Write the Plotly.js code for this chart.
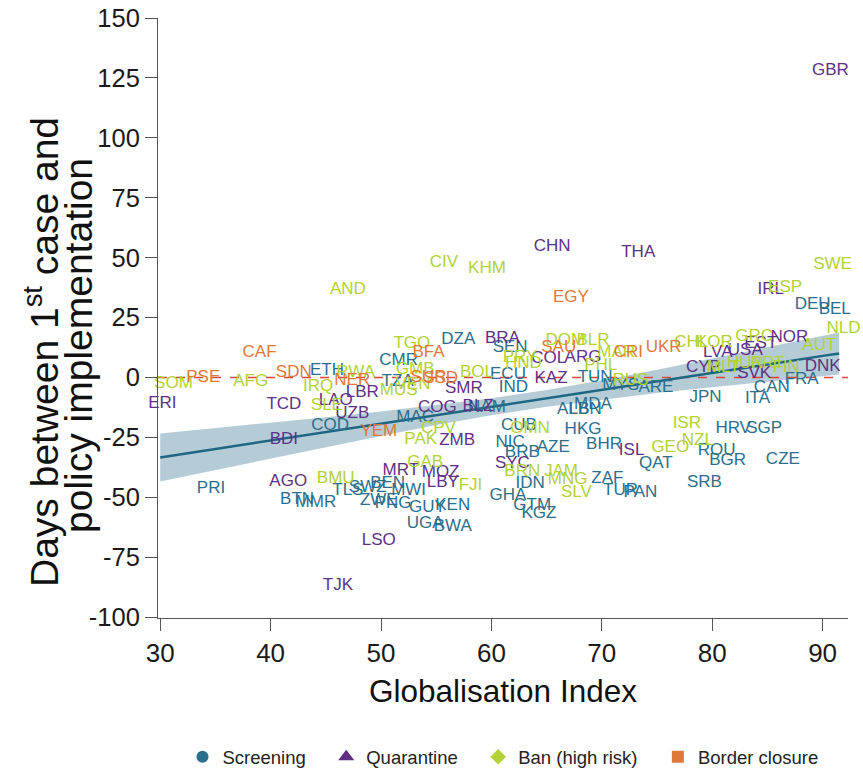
<!DOCTYPE html>
<html>
<head>
<meta charset="utf-8">
<script src="https://cdn.plot.ly/plotly-3.0.1.min.js"></script>
<style>html,body{margin:0;padding:0;background:#fff;}#chart{width:863px;height:772px;}</style>
</head>
<body>
<div id="chart"></div>
<script>
// ---- Data ----
var screenCodes = ["DEU","BEL","FRA","CAN","ITA","JPN","SGP","HRV","ROU","BGR","CZE","QAT","SRB","PAN","TUR","BHR","HKG","ZAF","IDN","AZE","BRB","NIC","CUB","GHA","GTM","KGZ","MDA","ALB","LBN","ARE","NAM","DZA","SEN","CMR","ETH","TZA","IND","ECU","TUN","MAC","COD","PRI","BTN","MMR","TLS","SWZ","BEN","MWI","ZWE","PNG","GUY","KEN","UGA","BWA","MYS"];
var screenX = [89.1,91.1,88.1,85.4,84.1,79.4,84.7,81.9,80.4,81.4,86.4,74.9,79.3,73.5,71.7,70.2,68.3,70.5,63.5,65.6,62.8,61.7,62.5,61.5,63.7,64.3,69.2,67.4,68.5,74.9,59.6,57.0,61.7,51.6,45.1,51.5,62.0,61.5,69.4,53.1,45.4,34.6,42.4,44.1,47.0,48.8,50.6,52.5,49.8,51.1,54.2,56.5,54.0,56.5,71.7];
var screenY = [30.5,28.4,-0.8,-4.2,-8.8,-8.3,-21.3,-21.3,-30.5,-34.6,-34.2,-35.9,-43.8,-48.0,-47.2,-28.0,-21.7,-42.2,-44.2,-29.2,-31.3,-27.1,-20.0,-49.3,-53.4,-56.8,-11.3,-13.4,-13.4,-4.2,-12.5,15.9,12.5,7.1,2.9,-1.7,-4.2,1.3,0.0,-16.7,-20.0,-46.3,-50.9,-52.2,-47.2,-45.9,-44.2,-47.2,-51.3,-52.6,-54.3,-53.4,-60.9,-62.2,-3.3];

var quarCodes = ["GBR","CHN","THA","IRL","NOR","DNK","BRA","ARG","KAZ","SMR","LBR","LAO","UZB","COG","ERI","TCD","BDI","AGO","ZMB","MRT","MOZ","LBY","SYC","ISL","LSO","TJK","LVA","USA","EST","CYP","SVK","COL","BLZ"];
var quarX = [90.7,65.5,73.3,85.3,87.0,90.0,61.0,68.3,65.4,57.5,48.3,45.9,47.4,55.1,30.2,41.2,41.2,41.6,56.9,51.8,55.4,55.6,61.9,72.7,49.8,46.1,80.5,83.0,84.4,79.2,83.8,65.2,58.8];
var quarY = [128.1,54.7,52.2,36.7,16.7,4.6,16.3,8.3,-0.4,-4.6,-6.3,-9.6,-15.0,-12.5,-10.9,-11.3,-25.9,-43.4,-26.3,-38.8,-39.7,-43.8,-35.9,-30.5,-68.0,-86.8,10.4,11.3,14.2,4.2,1.7,7.9,-12.1];

var banCodes = ["SWE","ESP","NLD","CHE","AUT","CIV","KHM","AND","TGO","GMB","RWA","IRQ","SLE","SOM","AFG","BOL","PRY","HND","DOM","BLR","MAR","PHL","RUS","CHL","KOR","GRC","PRT","FIN","MLT","HUN","ISR","NZL","GEO","SLV","MNG","BRN","JAM","OMN","FJI","GAB","BMU","PAK","CPV","VEN","MUS"];
var banX = [90.9,86.6,91.9,92.6,89.7,55.7,59.6,47.0,52.8,53.1,47.7,44.3,45.1,31.2,38.2,58.7,62.6,62.9,66.7,69.2,71.3,69.9,72.6,78.1,80.2,83.8,85.0,86.7,81.0,83.0,77.7,78.7,76.2,67.7,66.9,62.8,66.3,63.5,58.1,54.0,45.9,53.6,55.2,52.9,51.6];
var banY = [47.2,37.6,20.5,17.1,13.4,48.0,45.5,36.7,14.2,3.3,2.1,-3.8,-11.7,-2.5,-1.7,2.1,8.3,5.8,15.4,15.4,10.4,5.0,-1.3,14.6,14.6,17.1,5.8,4.2,4.2,5.8,-19.2,-26.3,-29.2,-48.0,-42.6,-39.2,-39.2,-21.3,-45.1,-35.5,-42.2,-25.9,-21.3,-2.9,-5.4];

var bordCodes = ["CAF","PSE","SDN","NER","BFA","EGY","SAU","CRI","UKR","YEM","SUR","SSD"];
var bordX = [39.0,33.9,42.1,47.4,54.3,67.2,66.1,72.4,75.6,49.8,54.3,55.4];
var bordY = [10.4,0.0,2.1,-1.3,10.4,33.4,12.5,10.4,12.5,-22.5,0.0,-0.4];

// fitted line and 95% band
var fitX  = [30,35,40,45,50,55,60,65,70,75,80,85,90,91.5];
var fitY  = [-33.4,-29.9,-26.3,-22.8,-19.3,-15.8,-12.2,-8.7,-5.2,-1.6,1.9,5.4,9.0,10.0];
var bandLo = [-43.4,-38.6,-33.7,-29.0,-24.4,-19.9,-15.8,-12.2,-9.2,-6.5,-4.1,-1.7,0.5,1.2];
var bandHi = [-23.4,-21.2,-18.9,-16.6,-14.2,-11.6,-8.7,-5.2,-1.2,3.2,7.9,12.6,17.4,18.8];

var refX = [29.8, 92.3];
var refY = [0, 0];

var xTicks = [30,40,50,60,70,80,90];
var yTicks = [-100,-75,-50,-25,0,25,50,75,100,125,150];

var categories = ["Screening","Quarantine","Ban (high risk)","Border closure"];
var yTitleLines = ["Days between 1<sup>st</sup> case and", "policy implementation"];
var xTitle = "Globalisation Index";

// ---- Styles ----
var FONT = "Liberation Sans, Arial, Helvetica, sans-serif";
var colors = ["#2C6E8C","#5E3184","#B2D235","#E0783A"];
var symbols = ["circle","triangle-up","diamond","square"];
var PAD = "\u00a0\u00a0\u00a0";

var traces = [];
traces.push({x: fitX, y: bandLo, mode:"lines", line:{width:0, color:"rgba(0,0,0,0)"}, showlegend:false, hoverinfo:"skip"});
traces.push({x: fitX, y: bandHi, mode:"lines", line:{width:0, color:"rgba(0,0,0,0)"}, fill:"tonexty", fillcolor:"rgba(60,120,150,0.38)", showlegend:false, hoverinfo:"skip"});
traces.push({x: refX, y: refY, mode:"lines", line:{color:"#D9463C", width:1.5, dash:"dash"}, showlegend:false, hoverinfo:"skip"});
traces.push({x: fitX, y: fitY, mode:"lines", line:{color:"#1F6683", width:2.5}, showlegend:false, hoverinfo:"skip"});

var sets = [[screenCodes,screenX,screenY],[quarCodes,quarX,quarY],[banCodes,banX,banY],[bordCodes,bordX,bordY]];
sets.forEach(function(s, i){
  traces.push({x: s[1], y: s[2], text: s[0], mode:"text", textposition:"middle center",
    textfont:{family:FONT, size:17, color:colors[i]}, cliponaxis:false, showlegend:false, hoverinfo:"text"});
});
categories.forEach(function(c, i){
  traces.push({x:[null], y:[null], mode:"markers", name: (i < categories.length-1 ? c + PAD : c),
    marker:{symbol:symbols[i], color:colors[i], size:(i===1 ? 14 : 12)}});
});

var layout = {
  width: 863, height: 772,
  margin: {l:158, r:15, t:18, b:154, autoexpand:false},
  paper_bgcolor:"#fff", plot_bgcolor:"#fff",
  font: {family: FONT, color:"#1a1a1a"},
  showlegend: true,
  legend: {orientation:"h", traceorder:"normal", x:(503-158)/690, xanchor:"center", y:-0.232, yanchor:"middle",
    font:{family:FONT, size:18.5, color:"#222"}, itemwidth:30},
  xaxis: {range:[29.8,92.3], tickvals:xTicks, ticktext:xTicks.map(String), showgrid:false, zeroline:false,
    showline:true, linecolor:"#555", linewidth:1, ticks:"outside", ticklen:12, tickcolor:"#555",
    tickfont:{family:FONT, size:26, color:"#1a1a1a"},
    title:{text:xTitle, font:{family:FONT, size:31.5, color:"#111"}, standoff:12}},
  yaxis: {range:[-100.4,150], tickvals:yTicks, ticktext:yTicks.map(String), showgrid:false, zeroline:false,
    showline:true, linecolor:"#555", linewidth:1, ticks:"outside", ticklen:12, tickcolor:"#555",
    tickfont:{family:FONT, size:25.5, color:"#1a1a1a"}},
  annotations: [
    {text:yTitleLines[0], textangle:-90, xref:"paper", yref:"paper", x:(41-158)/690, y:(618-352)/600,
     xanchor:"center", yanchor:"middle", showarrow:false, font:{family:FONT, size:39, color:"#111"}},
    {text:yTitleLines[1], textangle:-90, xref:"paper", yref:"paper", x:(78-158)/690, y:(618-346)/600,
     xanchor:"center", yanchor:"middle", showarrow:false, font:{family:FONT, size:39, color:"#111"}}
  ]
};

Plotly.newPlot("chart", traces, layout, {displayModeBar:false, staticPlot:true});
</script>
</body>
</html>
